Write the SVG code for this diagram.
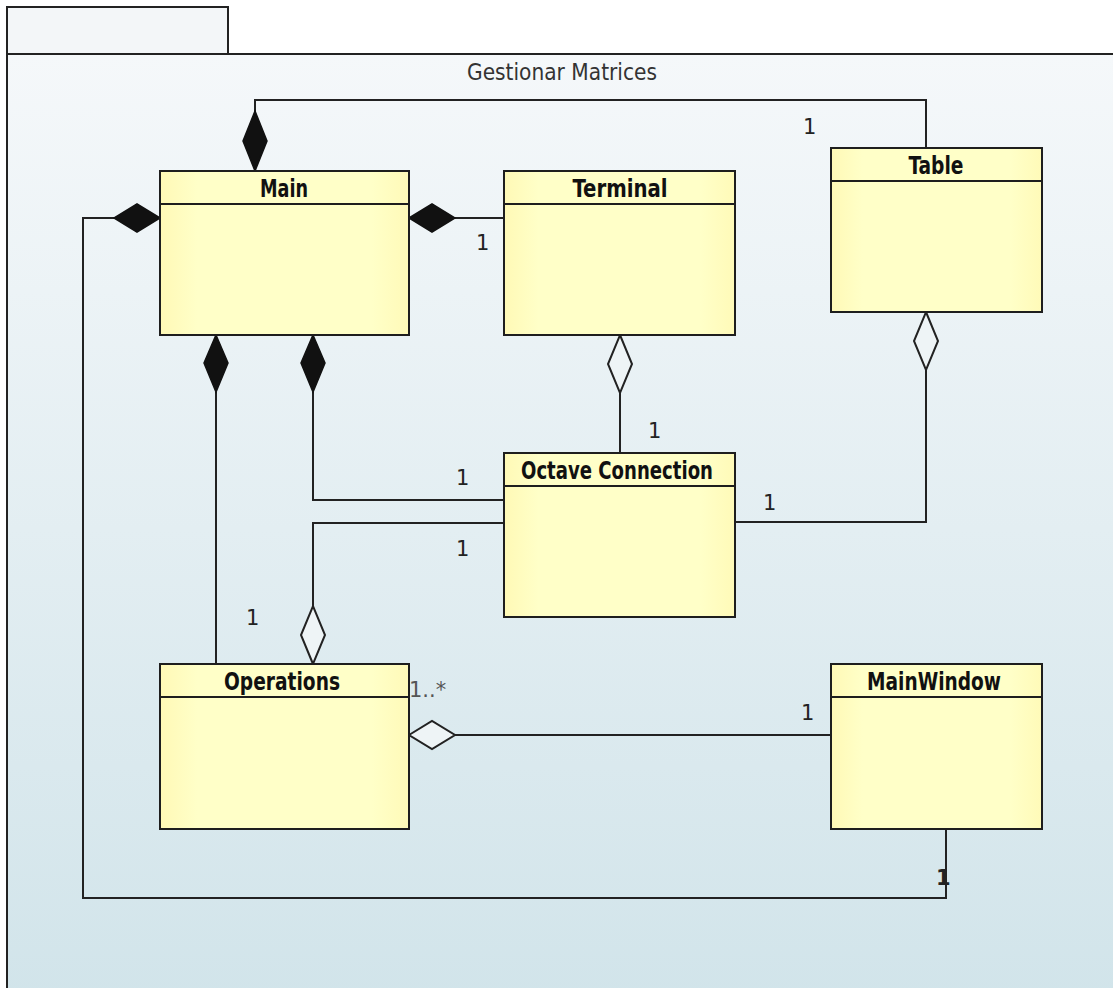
<svg xmlns="http://www.w3.org/2000/svg" width="1113" height="988" viewBox="0 0 1113 988">
  <defs>
    <linearGradient id="pkgFill" x1="0" y1="0" x2="0" y2="1">
      <stop offset="0" stop-color="#f5f8fa"/>
      <stop offset="1" stop-color="#d1e4ea"/>
    </linearGradient>
    <linearGradient id="classFill" x1="0" y1="0" x2="1" y2="0">
      <stop offset="0" stop-color="#fff9b6"/>
      <stop offset="0.15" stop-color="#ffffc8"/>
      <stop offset="0.85" stop-color="#ffffc8"/>
      <stop offset="1" stop-color="#fffab8"/>
    </linearGradient>
  </defs>
  <style>
    .frame { fill: url(#pkgFill); stroke: #222; stroke-width: 2; }
    .tab { fill: #f3f6f8; stroke: #222; stroke-width: 2; }
    .title { font-family: "DejaVu Sans", "Liberation Sans", sans-serif; font-size: 23px; fill: #333; }
    .box { fill: url(#classFill); stroke: #1e1e1e; stroke-width: 2; }
    .sep { stroke: #1e1e1e; stroke-width: 2; }
    .name { font-family: "DejaVu Sans Condensed", "DejaVu Sans", sans-serif; font-weight: bold; font-size: 24px; fill: #111; text-anchor: middle; }
    .edge { fill: none; stroke: #222; stroke-width: 2; }
    .comp { fill: #111; stroke: #111; stroke-width: 1.5; }
    .aggr { fill: #eef4f6; stroke: #222; stroke-width: 2; }
    .mult { font-family: "DejaVu Sans", "Liberation Sans", sans-serif; font-size: 21px; fill: #222; }
  </style>

  <!-- package frame -->
  <g id="package">
    <rect class="tab" x="7" y="7" width="221" height="47"/>
    <rect class="frame" x="7" y="54" width="1120" height="950"/>
    <text class="title" x="467" y="80" textLength="190" lengthAdjust="spacingAndGlyphs">Gestionar Matrices</text>
  </g>

  <!-- associations -->
  <g id="connectors">
    <!-- Main <>- Table -->
    <polyline class="edge" points="255,112 255,100 926,100 926,148"/>
    <polygon class="comp" points="255,171 243,141 255,111 267,141"/>
    <text class="mult" x="803" y="134">1</text>

    <!-- Main <>- Terminal -->
    <line class="edge" x1="455" y1="218" x2="504" y2="218"/>
    <polygon class="comp" points="409,218 432,204 455,218 432,232"/>
    <text class="mult" x="476" y="250">1</text>

    <!-- Main <>- MainWindow -->
    <polyline class="edge" points="114,218 83,218 83,898 946,898 946,829"/>
    <polygon class="comp" points="160,218 137,204 114,218 137,232"/>
    <text class="mult" x="936" y="885" style="font-weight:bold">1</text>

    <!-- Main <>- Operations -->
    <line class="edge" x1="216" y1="392" x2="216" y2="664"/>
    <polygon class="comp" points="216,335 228,363 216,392 204,363"/>
    <text class="mult" x="246" y="625">1</text>

    <!-- Main <>- OctaveConnection -->
    <polyline class="edge" points="313,392 313,500 504,500"/>
    <polygon class="comp" points="313,335 325,363 313,392 301,363"/>
    <text class="mult" x="456" y="485">1</text>

    <!-- Operations <>- OctaveConnection -->
    <polyline class="edge" points="313,606 313,523 504,523"/>
    <polygon class="aggr" points="313,664 301,635 313,606 325,635"/>
    <text class="mult" x="456" y="556">1</text>

    <!-- Terminal <>- OctaveConnection -->
    <line class="edge" x1="620" y1="393" x2="620" y2="453"/>
    <polygon class="aggr" points="620,335 632,364 620,393 608,364"/>
    <text class="mult" x="648" y="438">1</text>

    <!-- Table <>- OctaveConnection -->
    <polyline class="edge" points="926,370 926,522 735,522"/>
    <polygon class="aggr" points="926,312 938,341 926,370 914,341"/>
    <text class="mult" x="763" y="510">1</text>

    <!-- Operations <>- MainWindow -->
    <line class="edge" x1="455" y1="735" x2="831" y2="735"/>
    <polygon class="aggr" points="409,735 432,721 455,735 432,749"/>
    <text class="mult" x="409" y="697" style="fill:#555">1..*</text>
    <text class="mult" x="801" y="720">1</text>
  </g>

  <!-- classes -->
  <g id="Main">
    <rect class="box" x="160" y="171" width="249" height="164"/>
    <line class="sep" x1="160" y1="204" x2="409" y2="204"/>
    <text class="name" x="284" y="197" textLength="48" lengthAdjust="spacingAndGlyphs">Main</text>
  </g>
  <g id="Terminal">
    <rect class="box" x="504" y="171" width="231" height="164"/>
    <line class="sep" x1="504" y1="204" x2="735" y2="204"/>
    <text class="name" x="620" y="197" textLength="95" lengthAdjust="spacingAndGlyphs">Terminal</text>
  </g>
  <g id="Table">
    <rect class="box" x="831" y="148" width="211" height="164"/>
    <line class="sep" x1="831" y1="181" x2="1042" y2="181"/>
    <text class="name" x="936" y="174" textLength="55" lengthAdjust="spacingAndGlyphs">Table</text>
  </g>
  <g id="OctaveConnection">
    <rect class="box" x="504" y="453" width="231" height="164"/>
    <line class="sep" x1="504" y1="486" x2="735" y2="486"/>
    <text class="name" x="617" y="479" textLength="192" lengthAdjust="spacingAndGlyphs">Octave Connection</text>
  </g>
  <g id="Operations">
    <rect class="box" x="160" y="664" width="249" height="165"/>
    <line class="sep" x1="160" y1="697" x2="409" y2="697"/>
    <text class="name" x="282" y="690" textLength="116" lengthAdjust="spacingAndGlyphs">Operations</text>
  </g>
  <g id="MainWindow">
    <rect class="box" x="831" y="664" width="211" height="165"/>
    <line class="sep" x1="831" y1="697" x2="1042" y2="697"/>
    <text class="name" x="934" y="690" textLength="134" lengthAdjust="spacingAndGlyphs">MainWindow</text>
  </g>
</svg>
